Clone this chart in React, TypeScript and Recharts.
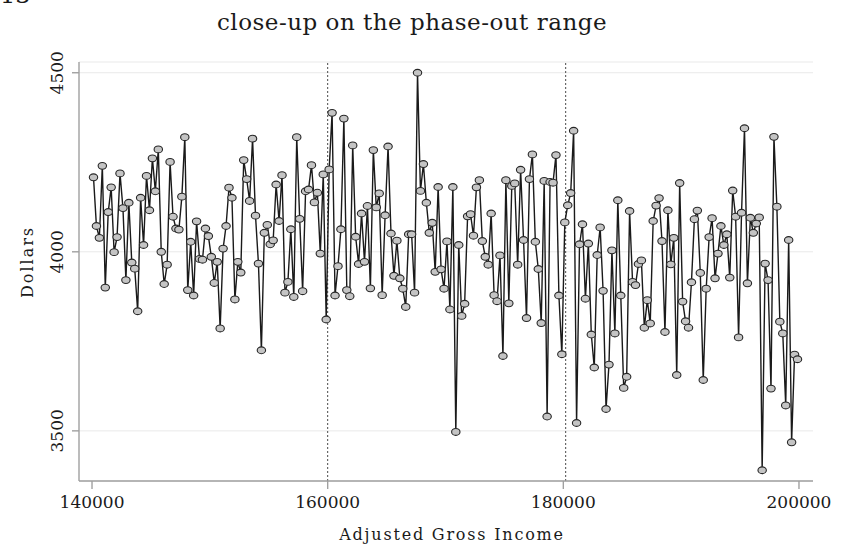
import { LineChart, Line, XAxis, YAxis, CartesianGrid, ReferenceLine } from 'recharts';

// AGI grid (x) and the plotted dollar amounts (y)
const agi = [
  140125, 140375, 140625, 140875, 141125, 141375, 141625, 141875, 142125, 142375,
  142625, 142875, 143125, 143375, 143625, 143875, 144125, 144375, 144625, 144875,
  145125, 145375, 145625, 145875, 146125, 146375, 146625, 146875, 147125, 147375,
  147625, 147875, 148125, 148375, 148625, 148875, 149125, 149375, 149625, 149875,
  150125, 150375, 150625, 150875, 151125, 151375, 151625, 151875, 152125, 152375,
  152625, 152875, 153125, 153375, 153625, 153875, 154125, 154375, 154625, 154875,
  155125, 155375, 155625, 155875, 156125, 156375, 156625, 156875, 157125, 157375,
  157625, 157875, 158125, 158375, 158625, 158875, 159125, 159375, 159625, 159875,
  160125, 160375, 160625, 160875, 161125, 161375, 161625, 161875, 162125, 162375,
  162625, 162875, 163125, 163375, 163625, 163875, 164125, 164375, 164625, 164875,
  165125, 165375, 165625, 165875, 166125, 166375, 166625, 166875, 167125, 167375,
  167625, 167875, 168125, 168375, 168625, 168875, 169125, 169375, 169625, 169875,
  170125, 170375, 170625, 170875, 171125, 171375, 171625, 171875, 172125, 172375,
  172625, 172875, 173125, 173375, 173625, 173875, 174125, 174375, 174625, 174875,
  175125, 175375, 175625, 175875, 176125, 176375, 176625, 176875, 177125, 177375,
  177625, 177875, 178125, 178375, 178625, 178875, 179125, 179375, 179625, 179875,
  180125, 180375, 180625, 180875, 181125, 181375, 181625, 181875, 182125, 182375,
  182625, 182875, 183125, 183375, 183625, 183875, 184125, 184375, 184625, 184875,
  185125, 185375, 185625, 185875, 186125, 186375, 186625, 186875, 187125, 187375,
  187625, 187875, 188125, 188375, 188625, 188875, 189125, 189375, 189625, 189875,
  190125, 190375, 190625, 190875, 191125, 191375, 191625, 191875, 192125, 192375,
  192625, 192875, 193125, 193375, 193625, 193875, 194125, 194375, 194625, 194875,
  195125, 195375, 195625, 195875, 196125, 196375, 196625, 196875, 197125, 197375,
  197625, 197875, 198125, 198375, 198625, 198875, 199125, 199375, 199625, 199875,
];

const dollars = [
  4208, 4072, 4039, 4240, 3900, 4111, 4180, 3999, 4041, 4219,
  4122, 3921, 4137, 3970, 3953, 3834, 4151, 4019, 4212, 4116,
  4261, 4169, 4286, 4000, 3910, 3964, 4251, 4098, 4065, 4062,
  4154, 4320, 3893, 4028, 3878, 4085, 3980, 3978, 4065, 4044,
  3986, 3913, 3972, 3786, 4009, 4072, 4179, 4151, 3867, 3972,
  3942, 4256, 4203, 4142, 4316, 4101, 3967, 3725, 4053, 4075,
  4021, 4032, 4188, 4086, 4214, 3886, 3916, 4063, 3874, 4320,
  4092, 3890, 4169, 4174, 4242, 4138, 4165, 3995, 4216, 3811,
  4230, 4388, 3878, 3960, 4063, 4372, 3893, 3876, 4297, 4042,
  3966, 4107, 3972, 4128, 3898, 4284, 4124, 4163, 3879, 4102,
  4294, 4051, 3933, 4031, 3926, 3897, 3846, 4049, 4049, 3886,
  4500, 4170, 4245, 4137, 4053, 4081, 3944, 4181, 3951, 3897,
  4029, 3839, 4181, 3497, 4019, 3821, 3855, 4099, 4105, 4045,
  4180, 4200, 4030, 3986, 3964, 4107, 3879, 3862, 3990, 3709,
  4200, 3856, 4184, 4191, 3964, 4229, 4033, 3815, 4203, 4272,
  4028, 3952, 3801, 4198, 3540, 4195, 4193, 4270, 3878, 3714,
  4082, 4130, 4164, 4338, 3522, 4021, 4077, 3869, 4023, 3769,
  3677, 3991, 4068, 3891, 3561, 3685, 4004, 3772, 4144, 3878,
  3620, 3651, 4114, 3916, 3907, 3966, 3976, 3788, 3865, 3800,
  4086, 4129, 4150, 4030, 3776, 4116, 3965, 4039, 3656, 4192,
  3861, 3806, 3788, 3915, 4091, 4115, 3941, 3642, 3897, 4041,
  4094, 3926, 3995, 4072, 4019, 4049, 3928, 4171, 4098, 3761,
  4109, 4345, 3912, 4095, 4053, 4079, 4096, 3390, 3967, 3921,
  3618, 4321, 4126, 3805, 3772, 3571, 4033, 3468, 3713, 3700,
];

const xTicks = [140000, 160000, 180000, 200000];
const yTicks = [3500, 4000, 4500];
const phaseOutBounds = [160000, 180200];

const data = agi.map((a, i) => ({ agi: a, dollars: dollars[i] }));

const FONT = '"DejaVu Serif", serif';
const INK = '#1a1a1a';
const AXIS = '#a0a0a0';

const XTick = ({ x, y, payload }: any) => (
  <text x={x} y={y} dy={17} textAnchor="middle" fontFamily={FONT} fontSize={17} fill={INK}>
    {payload.value}
  </text>
);

const YTick = ({ x, y, payload }: any) => (
  <text
    x={x - 7}
    y={y}
    textAnchor="middle"
    fontFamily={FONT}
    fontSize={17}
    fill={INK}
    transform={`rotate(-90, ${x - 7}, ${y})`}
  >
    {payload.value}
  </text>
);

const Marker = (props: any) => {
  const { cx, cy, index } = props;
  if (cx == null || cy == null) return <g key={index} />;
  return (
    <ellipse key={index} cx={cx} cy={cy} rx={4.2} ry={3.4} fill="#c4c4c4" stroke="#262626" strokeWidth={1.1} />
  );
};

export default function App() {
  return (
    <div style={{ position: 'absolute', left: 0, top: 0, width: 852, height: 549, background: '#fff', overflow: 'hidden' }}>
      <LineChart width={852} height={549} data={data} margin={{ top: 62, right: 39, bottom: 0, left: 0 }}>
        <CartesianGrid vertical={false} stroke="#e9e9e9" />
        <XAxis
          type="number"
          dataKey="agi"
          domain={[138895, 201190]}
          ticks={xTicks}
          allowDataOverflow
          height={68}
          tickSize={8}
          tickMargin={2}
          stroke={AXIS}
          strokeWidth={1.4}
          tick={<XTick />}
        />
        <YAxis
          type="number"
          domain={[3360, 4530]}
          ticks={yTicks}
          allowDataOverflow
          width={79}
          tickSize={7}
          tickMargin={2}
          stroke={AXIS}
          strokeWidth={1.4}
          tick={<YTick />}
        />
        {phaseOutBounds.map((v) => (
          <ReferenceLine key={v} x={v} stroke="#4a4a4a" strokeDasharray="2 2" strokeWidth={1} />
        ))}
        <Line
          type="linear"
          dataKey="dollars"
          stroke="#1a1a1a"
          strokeWidth={1.4}
          dot={Marker}
          activeDot={false}
          isAnimationActive={false}
        />
      </LineChart>
      <svg width={852} height={549} style={{ position: 'absolute', left: 0, top: 0, pointerEvents: 'none' }}>
        <text x={0} y={3} fontFamily={FONT} fontSize={24} fill={INK}>13</text>
        <text x={412} y={30} textAnchor="middle" fontFamily={FONT} fontSize={23} letterSpacing={0.5} fill={INK}>
          close-up on the phase-out range
        </text>
        <text x={452} y={540} textAnchor="middle" fontFamily={FONT} fontSize={16} letterSpacing={1.8} fill={INK}>
          Adjusted Gross Income
        </text>
        <text
          x={33}
          y={262}
          textAnchor="middle"
          fontFamily={FONT}
          fontSize={16}
          letterSpacing={2}
          fill={INK}
          transform="rotate(-90, 33, 262)"
        >
          Dollars
        </text>
      </svg>
    </div>
  );
}
